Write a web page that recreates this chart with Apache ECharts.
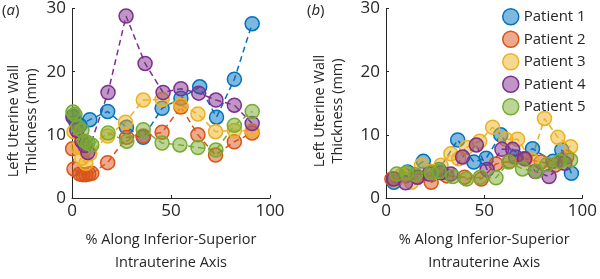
<!DOCTYPE html>
<html>
<head>
<meta charset="utf-8">
<script src="https://cdn.jsdelivr.net/npm/echarts@6/dist/echarts.min.js"></script>
<style>html,body{margin:0;padding:0;background:#fff}#c{width:600px;height:279px}</style>
</head>
<body>
<div id="c"></div>
<script>
// ---------- data ----------
const seriesNames = ['Patient 1', 'Patient 2', 'Patient 3', 'Patient 4', 'Patient 5'];
const colors = ['#0072BD', '#D95319', '#EDB120', '#7E2F8E', '#77AC30'];
const fills = ['rgba(0,114,189,0.5)', 'rgba(217,83,25,0.5)', 'rgba(237,177,32,0.5)', 'rgba(126,47,142,0.5)', 'rgba(119,172,48,0.5)'];
const xTicks = [0, 50, 100];
const yTicks = [0, 10, 20, 30];

// Panel (a)
const aP1x = [0.5, 2, 4, 9, 18, 27.5, 36, 45.5, 55, 64.5, 73, 82, 91];
const aP1y = [13, 12, 11.5, 12.4, 13.7, 11.2, 9.6, 14.2, 15.8, 17.6, 12.8, 18.8, 27.6];
const aP2x = [0.3, 1, 4, 5.5, 7, 8.5, 10, 18, 27.6, 36, 45.5, 55, 63.6, 72.5, 82, 91];
const aP2y = [7.8, 4.6, 3.8, 3.7, 3.7, 3.8, 3.9, 5.6, 9.6, 9.8, 10.4, 14.4, 10, 6.8, 8.9, 10.3];
const aP3x = [1, 3, 5, 7, 9, 18, 27, 36, 45.5, 55, 63.6, 72.5, 82, 91];
const aP3y = [10.5, 8, 6.3, 5.5, 7, 9.8, 12, 15.5, 15.6, 14.7, 13.3, 10.5, 10.7, 10.6];
const aP4x = [0.5, 2.5, 5, 6.5, 8, 18.2, 27.3, 36.9, 46, 55, 64, 72.7, 82, 91];
const aP4y = [12.8, 10.7, 9, 8.3, 7.2, 16.7, 28.8, 21.3, 16.7, 17.3, 16.6, 15.5, 14.7, 11.8];
const aP5x = [0.5, 1.5, 3, 5, 6.5, 8, 10, 18.2, 27.7, 36, 45.5, 54.5, 63.6, 72.7, 82, 91];
const aP5y = [13.6, 13.2, 11.3, 10.7, 9, 8.7, 8.4, 10.3, 9, 10.8, 8.7, 8.4, 8, 7.6, 11.5, 13.7];

// Panel (b)
const bP1x = [4, 11, 19, 27, 36.5, 44.7, 51, 58.4, 66, 74.6, 85, 89.5, 94.4];
const bP1y = [2.5, 4.1, 5.8, 4.5, 9.2, 5.7, 6.3, 10, 6.5, 7.8, 5.8, 7.6, 3.9];
const bP2x = [3, 10, 16, 23, 31, 40, 48.5, 56, 63, 71, 79, 86, 92];
const bP2y = [3, 3.5, 3.3, 2.5, 3.5, 3.3, 3, 5.4, 5.8, 6.2, 5.7, 5.2, 6.5];
const bP3x = [5, 8, 13, 18, 23, 28, 33, 37, 41, 47.7, 54.3, 61, 67, 74, 80.7, 87.5, 94];
const bP3y = [3, 3.6, 2.5, 5.2, 4.2, 5.2, 7, 6.2, 8, 9, 11.2, 9.3, 9.3, 6, 12.6, 9.6, 8.1];
const bP4x = [4, 10, 16, 22, 28, 33, 39, 46, 51.5, 59, 64.5, 70.5, 76, 83, 91];
const bP4y = [3, 2.4, 3.3, 3.8, 4, 3.8, 6.5, 8.4, 4.5, 7.7, 7.7, 6.2, 4.2, 3.4, 5.5];
const bP5x = [5.5, 10.5, 15, 23, 27, 34, 41, 48, 56, 62.5, 69.5, 76.5, 82, 88.5, 94];
const bP5y = [3.8, 4, 3.7, 4, 4.2, 3.4, 3, 3.3, 3.2, 5.7, 4.6, 4.2, 5.3, 5.8, 6];

// ---------- chart ----------
const FONT = 'Open Sans';
const TXT = '#262626';
const panelA = [[aP1x, aP1y], [aP2x, aP2y], [aP3x, aP3y], [aP4x, aP4y], [aP5x, aP5y]];
const panelB = [[bP1x, bP1y], [bP2x, bP2y], [bP3x, bP3y], [bP4x, bP4y], [bP5x, bP5y]];

function mkSeries(panel, idx) {
  return panel.map((xy, i) => ({
    name: seriesNames[i],
    type: 'line',
    xAxisIndex: idx, yAxisIndex: idx,
    data: xy[0].map((x, k) => [x, xy[1][k]]),
    symbol: 'circle', symbolSize: 14, showAllSymbol: true,
    lineStyle: { color: colors[i], width: 1.5, type: [6, 4] },
    itemStyle: { color: fills[i], borderColor: colors[i], borderWidth: 1.5 },
    emphasis: { disabled: true },
    animation: false
  }));
}

function xAx(idx) {
  return {
    type: 'value', gridIndex: idx, min: 0, max: 100, interval: 50,
    axisLine: { lineStyle: { color: TXT, width: 1 } },
    axisTick: { inside: true, length: 3, lineStyle: { color: TXT } },
    splitLine: { show: false },
    axisLabel: { color: TXT, fontSize: 17, fontFamily: FONT, margin: 5 },
    name: '% Along Inferior-Superior\nIntrauterine Axis',
    nameLocation: 'middle', nameGap: 30,
    nameTextStyle: { color: TXT, fontSize: 14.5, fontFamily: FONT, lineHeight: 23 }
  };
}
function yAx(idx) {
  return {
    type: 'value', gridIndex: idx, min: 0, max: 30, interval: 10,
    axisLine: { show: true, lineStyle: { color: TXT, width: 1 } },
    axisTick: { show: true, inside: true, length: 3, lineStyle: { color: TXT } },
    splitLine: { show: false },
    axisLabel: { color: TXT, fontSize: 17, fontFamily: FONT, margin: 6 }
  };
}

const chart = echarts.init(document.getElementById('c'), null, { renderer: 'canvas' });
chart.setOption({
  animation: false,
  backgroundColor: '#fff',
  grid: [
    { left: 72, top: 8, width: 198, height: 200 },
    { left: 386, top: 8, width: 197, height: 200 }
  ],
  xAxis: [xAx(0), xAx(1)],
  yAxis: [yAx(0), yAx(1)],
  legend: {
    orient: 'vertical', left: 502, top: 8, padding: 0, itemWidth: 16, itemHeight: 16, itemGap: 5,
    icon: 'circle',
    textStyle: { color: TXT, fontSize: 15, fontFamily: FONT },
    data: seriesNames.map((n, i) => ({ name: n, itemStyle: { color: fills[i], borderColor: colors[i], borderWidth: 1.5 } }))
  },
  graphic: [
    { type: 'text', left: 2, top: 3, style: { text: '{n|(}{i|a}{n|)}', rich: { n: { fontSize: 15, fontFamily: FONT, fill: TXT }, i: { fontSize: 15, fontFamily: FONT, fontStyle: 'italic', fill: TXT } } } },
    { type: 'text', left: 307, top: 3, style: { text: '{n|(}{i|b}{n|)}', rich: { n: { fontSize: 15, fontFamily: FONT, fill: TXT }, i: { fontSize: 15, fontFamily: FONT, fontStyle: 'italic', fill: TXT } } } },
    { type: 'text', x: 23, y: 121, rotation: Math.PI / 2, style: { text: 'Left Uterine Wall\nThickness (mm)', align: 'center', verticalAlign: 'middle', fontSize: 14.5, fontFamily: FONT, fill: TXT, lineHeight: 18 } },
    { type: 'text', x: 329, y: 111, rotation: Math.PI / 2, style: { text: 'Left Uterine Wall\nThickness (mm)', align: 'center', verticalAlign: 'middle', fontSize: 14.5, fontFamily: FONT, fill: TXT, lineHeight: 18 } }
  ],
  series: mkSeries(panelA, 0).concat(mkSeries(panelB, 1))
});
</script>
</body>
</html>
